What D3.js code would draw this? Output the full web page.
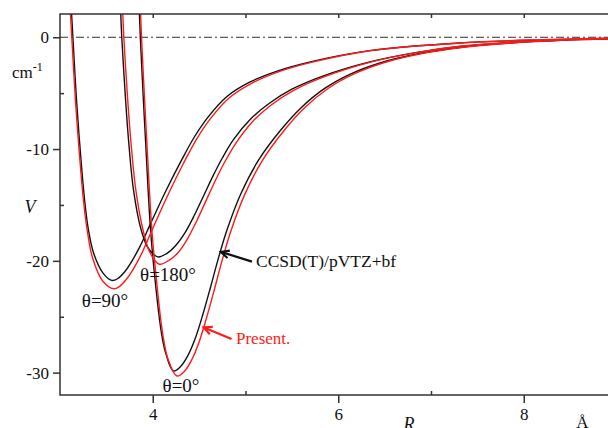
<!DOCTYPE html>
<html>
<head>
<meta charset="utf-8">
<script src="https://cdn.jsdelivr.net/npm/d3@7"></script>
<style>
  body { margin: 0; background: #fff; }
  p { margin: 0; }
  svg { display: block; }
  text { font-family: "Liberation Serif", "Times New Roman", serif; fill: #111; }
</style>
</head>
<body>
<p></p>
<script>
// potential curves V(R), [R in Angstrom, V in cm-1]
var theta0_ccsd = [[3.850,3],[3.856,2.08],[3.866,0],[3.899,-5.6],[3.922,-9.2],[3.976,-17.2],[4.025,-21.7],[4.089,-26.2],[4.138,-28.2],[4.222,-29.85],[4.30,-29.45],[4.38,-28.45],[4.46,-26.9],[4.54,-24.8],[4.62,-22.45],[4.70,-20.0],[4.80,-17.25],[4.95,-14.0],[5.14,-11.0],[5.38,-8.3],[5.6,-6.3],[5.85,-4.6],[6.13,-3.3],[6.45,-2.3],[6.85,-1.5],[7.31,-0.92],[7.8,-0.55],[8.4,-0.28],[9.0,-0.13]];
var theta0_present = [[3.863,3],[3.869,2.08],[3.879,0],[3.912,-5.6],[3.935,-9.2],[3.99,-17.2],[4.04,-21.7],[4.105,-26.4],[4.165,-28.8],[4.26,-30.3],[4.34,-29.9],[4.42,-28.85],[4.50,-27.25],[4.58,-25.1],[4.66,-22.7],[4.74,-20.2],[4.84,-17.4],[4.99,-14.1],[5.18,-11.05],[5.42,-8.3],[5.64,-6.28],[5.89,-4.58],[6.17,-3.28],[6.49,-2.28],[6.89,-1.48],[7.35,-0.9],[7.84,-0.53],[8.4,-0.27],[9.0,-0.12]];
var theta90_ccsd = [[3.119,3],[3.125,2.08],[3.139,0],[3.178,-5.6],[3.218,-10.1],[3.265,-14.55],[3.306,-17.2],[3.362,-19.3],[3.464,-21.1],[3.558,-21.75],[3.62,-21.6],[3.70,-20.95],[3.78,-19.95],[3.86,-18.75],[3.98,-16.6],[4.15,-13.6],[4.313,-10.95],[4.45,-8.9],[4.6,-7.1],[4.8,-5.3],[5.05,-4.0],[5.35,-3.0],[5.7,-2.2],[6.34,-1.2],[7.31,-0.52],[8.2,-0.24],[9.0,-0.1]];
var theta90_present = [[3.107,3],[3.113,2.08],[3.127,0],[3.166,-5.6],[3.206,-10.1],[3.253,-14.6],[3.294,-17.3],[3.35,-19.7],[3.46,-21.8],[3.58,-22.5],[3.64,-22.3],[3.72,-21.6],[3.80,-20.6],[3.88,-19.35],[4.0,-17.1],[4.17,-14.0],[4.333,-11.25],[4.47,-9.15],[4.62,-7.3],[4.82,-5.45],[5.07,-4.1],[5.37,-3.05],[5.72,-2.22],[6.36,-1.18],[7.33,-0.5],[8.2,-0.22],[9.0,-0.08]];
var theta180_ccsd = [[3.650,3],[3.655,2.08],[3.666,0],[3.707,-5.6],[3.739,-9.2],[3.793,-13.7],[3.874,-17.2],[3.95,-18.85],[4.054,-19.65],[4.15,-19.35],[4.25,-18.6],[4.35,-17.45],[4.45,-15.9],[4.55,-14.15],[4.65,-12.4],[4.75,-10.8],[4.87,-9.15],[5.05,-7.35],[5.25,-5.95],[5.5,-4.65],[5.84,-3.45],[6.34,-2.2],[6.85,-1.35],[7.31,-0.82],[7.8,-0.5],[8.4,-0.25],[9.0,-0.1]];
var theta180_present = [[3.672,3],[3.677,2.08],[3.688,0],[3.73,-5.6],[3.763,-9.2],[3.818,-13.7],[3.897,-17.3],[3.972,-19.3],[4.07,-20.3],[4.17,-19.98],[4.27,-19.3],[4.37,-18.1],[4.47,-16.5],[4.57,-14.7],[4.67,-12.9],[4.77,-11.25],[4.89,-9.55],[5.07,-7.6],[5.27,-6.1],[5.52,-4.75],[5.86,-3.5],[6.36,-2.2],[6.87,-1.33],[7.33,-0.78],[7.82,-0.47],[8.4,-0.23],[9.0,-0.09]];

var xMajor = [4, 6, 8];
var xMinor = [5, 7];
var yMajor = [0, -10, -20, -30];
var yMinor = [-5, -15, -25];

var w = 608;
var h = 428;

var svg = d3.select("p")
            .append("svg")
            .attr("width", w)
            .attr("height", h);

var x = d3.scaleLinear().domain([3, 9]).range([60, 616.5]);
var y = d3.scaleLinear().domain([2.08, -32]).range([14, 395]);

svg.append("clipPath")
   .attr("id", "plot")
   .append("rect")
   .attr("x", x(3))
   .attr("y", y(2.08))
   .attr("width", x(9) - x(3))
   .attr("height", y(-32) - y(2.08));

// zero line, dash-dot
svg.append("line")
   .attr("x1", x(3))
   .attr("x2", x(9))
   .attr("y1", y(0))
   .attr("y2", y(0))
   .attr("stroke", "#333")
   .attr("stroke-width", 1)
   .attr("stroke-dasharray", "8,3,2,3");

var line = d3.line()
             .x(function(d) { return x(d[0]); })
             .y(function(d) { return y(d[1]); })
             .curve(d3.curveCatmullRom.alpha(0.5));

var curves = [
    {data: theta0_ccsd, color: "#111"},
    {data: theta90_ccsd, color: "#111"},
    {data: theta180_ccsd, color: "#111"},
    {data: theta0_present, color: "#ff1a1a"},
    {data: theta90_present, color: "#ff1a1a"},
    {data: theta180_present, color: "#ff1a1a"}
];

svg.append("g")
   .attr("clip-path", "url(#plot)")
   .selectAll("path")
   .data(curves)
   .enter()
   .append("path")
   .attr("d", function(d) { return line(d.data); })
   .attr("fill", "none")
   .attr("stroke", function(d) { return d.color; })
   .attr("stroke-width", 1.4);

// frame
svg.append("rect")
   .attr("x", x(3))
   .attr("y", y(2.08))
   .attr("width", x(9) - x(3))
   .attr("height", y(-32) - y(2.08))
   .attr("fill", "none")
   .attr("stroke", "#333")
   .attr("stroke-width", 1.5);

// axes
var yAxis = d3.axisLeft(y)
              .tickValues(yMajor)
              .tickSizeInner(7)
              .tickSizeOuter(0)
              .tickPadding(4)
              .tickFormat(function(d) { return d === 0 ? "0" : "-" + Math.abs(d); });

svg.append("g")
   .attr("transform", "translate(" + x(3) + ",0)")
   .call(yAxis);

svg.append("g")
   .attr("transform", "translate(" + x(3) + ",0)")
   .call(d3.axisLeft(y).tickValues(yMinor).tickSizeInner(-4).tickSizeOuter(0).tickFormat(""));

var xAxis = d3.axisBottom(x)
              .tickValues(xMajor)
              .tickSizeInner(8)
              .tickSizeOuter(0)
              .tickPadding(5)
              .tickFormat(d3.format("d"));

svg.append("g")
   .attr("transform", "translate(0," + y(-32) + ")")
   .call(xAxis);

svg.append("g")
   .attr("transform", "translate(0," + y(-32) + ")")
   .call(d3.axisBottom(x).tickValues(xMinor).tickSizeInner(-4).tickSizeOuter(0).tickFormat(""));

svg.append("g")
   .attr("transform", "translate(0," + y(2.08) + ")")
   .call(d3.axisTop(x).tickValues(xMajor.concat(xMinor)).tickSizeInner(-4).tickSizeOuter(0).tickFormat(""));

svg.selectAll(".domain").remove();
svg.selectAll(".tick line").attr("stroke", "#333").attr("stroke-width", 1.5);
svg.selectAll(".tick text")
   .attr("font-family", null)
   .style("font-family", "'Liberation Serif', 'Times New Roman', serif")
   .style("font-size", "17px")
   .attr("fill", "#111");

// axis titles
var cm = svg.append("text")
            .attr("x", 12)
            .attr("y", 78)
            .style("font-size", "17px")
            .text("cm");
cm.append("tspan")
  .attr("dy", -7)
  .style("font-size", "12px")
  .text("-1");

svg.append("text")
   .attr("x", 30)
   .attr("y", 213)
   .attr("text-anchor", "middle")
   .style("font-size", "18px")
   .style("font-style", "italic")
   .text("V");

svg.append("text")
   .attr("x", 409)
   .attr("y", 430)
   .attr("text-anchor", "middle")
   .style("font-size", "18px")
   .style("font-style", "italic")
   .text("R");

svg.append("text")
   .attr("x", 582.5)
   .attr("y", 428)
   .attr("text-anchor", "middle")
   .style("font-size", "17px")
   .text("Å");

// curve labels
var labels = [
    {t: "θ=0°", x: 181, y: 392},
    {t: "θ=90°", x: 105, y: 307},
    {t: "θ=180°", x: 168, y: 281}
];

svg.selectAll(".lab")
   .data(labels)
   .enter()
   .append("text")
   .attr("class", "lab")
   .attr("x", function(d) { return d.x; })
   .attr("y", function(d) { return d.y; })
   .attr("text-anchor", "middle")
   .style("font-size", "19px")
   .text(function(d) { return d.t; });

svg.append("text")
   .attr("x", 256)
   .attr("y", 267)
   .style("font-size", "17.5px")
   .text("CCSD(T)/pVTZ+bf");

svg.append("text")
   .attr("x", 236)
   .attr("y", 344)
   .style("font-size", "17px")
   .style("fill", "#ff1a1a")
   .text("Present.");

// arrows
function arrow(x1, y1, x2, y2, color) {
    var a = Math.atan2(y2 - y1, x2 - x1);
    var len = 9, spread = 0.45;
    svg.append("line")
       .attr("x1", x1).attr("y1", y1)
       .attr("x2", x2).attr("y2", y2)
       .attr("stroke", color)
       .attr("stroke-width", 2.2);
    var p = [
        [x2 - len * Math.cos(a - spread), y2 - len * Math.sin(a - spread)],
        [x2, y2],
        [x2 - len * Math.cos(a + spread), y2 - len * Math.sin(a + spread)]
    ];
    svg.append("path")
       .attr("d", d3.line()(p))
       .attr("fill", "none")
       .attr("stroke", color)
       .attr("stroke-width", 2.2);
}

arrow(x(5.07), y(-20.07), x(4.735), y(-19.2), "#111");
arrow(x(4.85), y(-26.99), x(4.55), y(-25.96), "#ff1a1a");
</script>
</body>
</html>
